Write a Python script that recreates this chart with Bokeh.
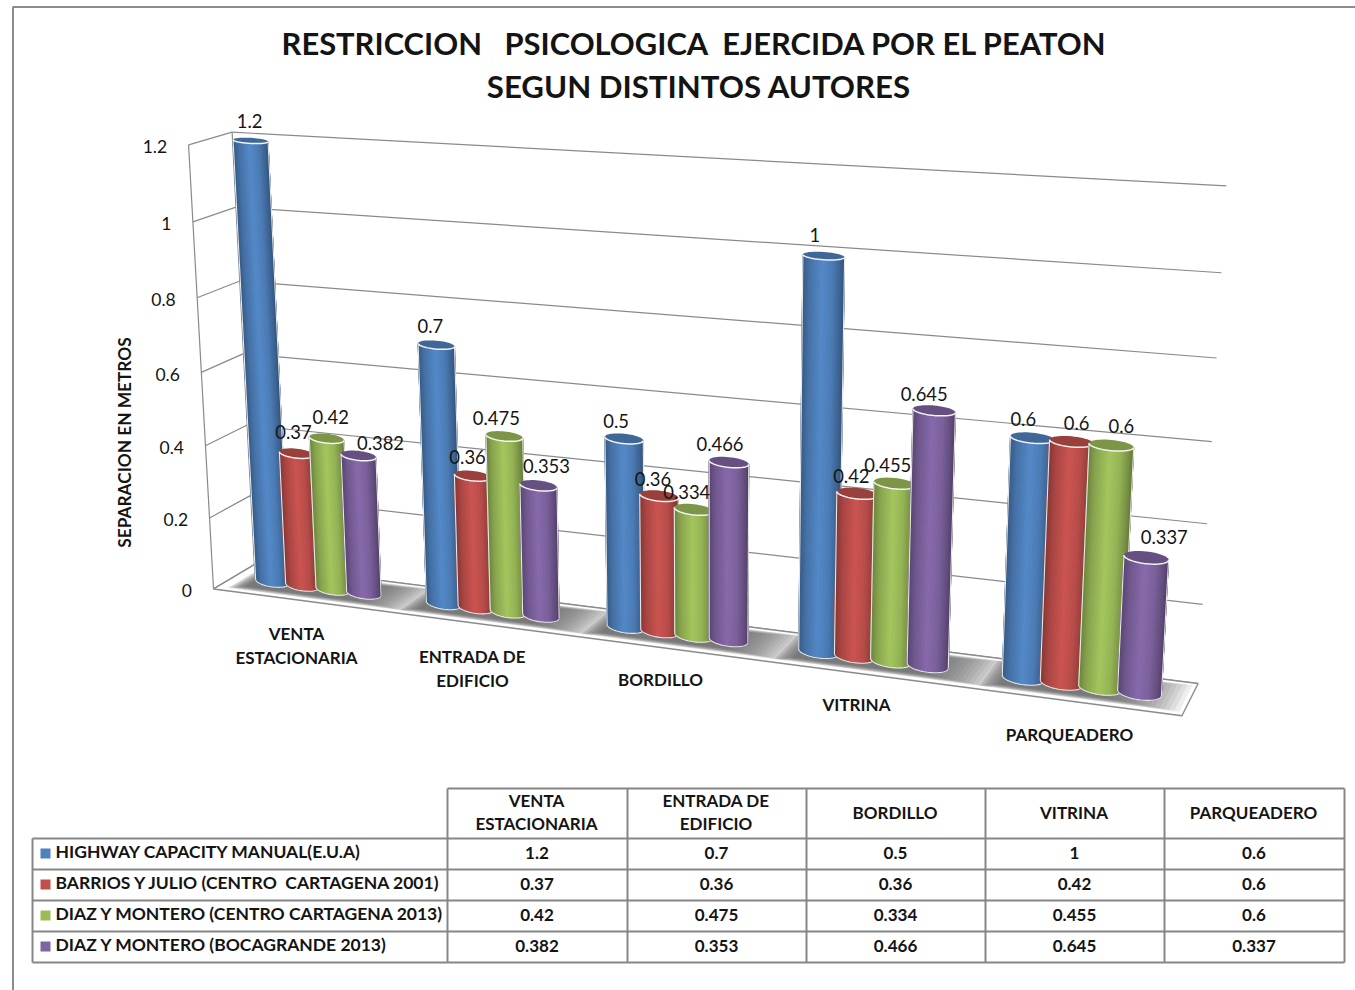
import numpy as np
from bokeh.plotting import figure
from bokeh.embed import file_html
from bokeh.resources import INLINE
from bokeh.core.properties import value

# ---------- data ----------
categories = ["VENTA\nESTACIONARIA", "ENTRADA DE\nEDIFICIO", "BORDILLO", "VITRINA", "PARQUEADERO"]
series_names = ["HIGHWAY CAPACITY MANUAL(E.U.A)", "BARRIOS Y JULIO (CENTRO \u00a0CARTAGENA 2001)",
                "DIAZ Y MONTERO (CENTRO CARTAGENA 2013)", "DIAZ Y MONTERO (BOCAGRANDE 2013)"]
highway = [1.2, 0.7, 0.5, 1, 0.6]
barrios = [0.37, 0.36, 0.36, 0.42, 0.6]
diaz_centro = [0.42, 0.475, 0.334, 0.455, 0.6]
diaz_boca = [0.382, 0.353, 0.466, 0.645, 0.337]
series = [highway, barrios, diaz_centro, diaz_boca]
ticks = [0, 0.2, 0.4, 0.6, 0.8, 1, 1.2]
tick_labels = ["0", "0.2", "0.4", "0.6", "0.8", "1", "1.2"]
title = ["RESTRICCION \u00a0 PSICOLOGICA \u00a0EJERCIDA POR EL PEATON", "SEGUN DISTINTOS AUTORES"]
y_title = "SEPARACION EN METROS"

# ---------- style ----------
colors = ["#4F81BD", "#C0504D", "#9BBB59", "#8064A2"]
GRID = "#8a8a8a"
TEXT = "#141414"
FONT = value("Lato")
STEP, RAD, RZ = 0.18, 0.1, 0.22

# perspective frame: (category pos, value, depth) -> page pixel, fitted to the frame's corners
d15 = 1.5 * STEP
anchors = [((0,0,0),(213,590)),((0,1.2,0),(187,143)),((0,.6,0),(202,371)),((5,0,0),(1182,717)),
           ((5,0,1),(1197,682)),((0,0,1),(253,567)),((0,1.2,1),(232,131)),((5,1.2,1),(1226,185)),
           ((5,.6,1),(1213,441)),((.5,0,.5),(317,585)),((1.5,0,.5),(492.5,608)),((2.5,0,.5),(676,632)),
           ((3.5,0,.5),(872,657)),((4.5,0,.5),(1081,684)),((.5-d15,1.2,.5),(251,141)),
           ((3.5-d15,1,.5),(822,257)),((4.5-d15,.6,.5),(1030,439))]
A, b = [], []
for (x, v, z), (u, w) in anchors:
    A.append([x, v, z, 1, 0, 0, 0, 0, -u*x, -u*v, -u*z]); b.append(u)
    A.append([0, 0, 0, 0, x, v, z, 1, -w*x, -w*v, -w*z]); b.append(w)
cam = np.linalg.lstsq(np.array(A, float), np.array(b, float), rcond=None)[0]
def proj(x, v, z):
    den = cam[8]*x + cam[9]*v + cam[10]*z + 1
    return np.array([(cam[0]*x+cam[1]*v+cam[2]*z+cam[3])/den, (cam[4]*x+cam[5]*v+cam[6]*z+cam[7])/den])

p = figure(width=1355, height=990, x_range=(0, 1355), y_range=(990, 0), toolbar_location=None,
           output_backend="svg", min_border=0, outline_line_color=None, background_fill_color="white",
           border_fill_color="white")
p.axis.visible = False
p.grid.visible = False

def seg(a, c, color=GRID, w=1.2):
    p.line([a[0], c[0]], [a[1], c[1]], line_color=color, line_width=w)

def txt(x, y, s, size="17px", style="bold", align="center", angle=0):
    p.text([x], [y-1.5], text=[s], text_font=FONT, text_font_size=size, text_font_style=style,
           text_align=align, text_baseline="middle", text_color=TEXT, angle=angle)

# chart border
p.line([12.5, 12.5, 1355], [990, 6.5, 6.5], line_color="#8c8c8c", line_width=2)

# title
txt(694.5, 44, title[0], "30.9px")
txt(698.5, 87, title[1], "31.2px")
txt(124, 443.5, y_title, "17.3px", angle=np.pi/2)

# walls and gridlines
for t, lab in zip(ticks, tick_labels):
    f, bk, r = proj(0, t, 0), proj(0, t, 1), proj(5, t, 1)
    seg(f, bk); seg(bk, r)
    txt(f[0]-21.5, f[1]+3.5, lab, "17.5px", "normal", "right")
seg(proj(0, 0, 0), proj(0, 1.2, 0)); seg(proj(0, 0, 1), proj(0, 1.2, 1))

# floor
fl = [proj(0,0,0), proj(0,0,1), proj(5,0,1), proj(5,0,0)]
p.patch([q[0] for q in fl], [q[1] for q in fl], fill_color="white", line_color=GRID, line_width=1.4)

# soft shadows on the floor: nested translucent quads build up a smooth gradient
NL = 16
for i in range(5):
    x0, x1 = i+.5-.44, min(i+.5+.62, 4.98)
    sx, sy = [], []
    for k in range(NL):
        t = k/NL
        xa, xb_ = x0 + .09*t, x1 - .36*t
        za, zb = .1 + .14*t, .93 - .14*t
        q = [proj(xa,0,za), proj(xb_,0,za), proj(xb_,0,zb), proj(xa,0,zb)]
        sx.append([c[0] for c in q]); sy.append([c[1] for c in q])
    p.patches(sx, sy, fill_color="#666666", fill_alpha=0.11, line_color=None)

def shade(hexc, f):
    rgb = np.array([int(hexc[k:k+2], 16) for k in (1, 3, 5)], float) * f
    rgb = np.clip(rgb, 0, 255).astype(int)
    return "#%02x%02x%02x" % tuple(rgb)

def ring(x, v, th):
    c = proj(x, v, .5)
    ax = proj(x+RAD, v, .5) - c
    by = abs(proj(x, v, .5-RZ)[1] - proj(x, v, .5+RZ)[1]) / 2
    return c[0]+np.cos(th)*ax[0], c[1]+np.cos(th)*ax[1]+np.sin(th)*by

# cylinders
NS = 40
offs = [(-1,-20),(-3,-21),(4,-21),(22,-13),(-6,-19),(-5,-19),(-8,-18),(8,-20),(-8,-18),(-6,-17),
        (-7,-18),(-9,-18),(-9,-21),(-6,-17),(-7,-18),(-10,-17),(-9,-19),(5,-19),(10,-19),(18,-21)]
labels = []
for i in range(5):
    for j, ser in enumerate(series):
        v = ser[i]
        x = i + .5 + (j-1.5)*STEP
        th = np.linspace(0, np.pi, NS+1)
        xb, yb = ring(x, 0, th); xt, yt = ring(x, v, th)
        qx, qy, qc = [], [], []
        for k in range(NS):
            qx.append([xb[k], xb[k+1], xt[k+1], xt[k]])
            qy.append([yb[k], yb[k+1], yt[k+1], yt[k]])
            u = (1-np.cos((th[k]+th[k+1])/2))/2   # 0 right -> 1 left
            f = np.interp(u, [0, .1, .3, .55, .85, 1], [.62, .76, .96, 1.06, .88, .72])
            qc.append(shade(colors[j], f))
        p.patches(qx, qy, fill_color=qc, line_color=qc, line_width=1)
        # pale outline of the body
        p.line(list(xb)+[xt[-1]], list(yb)+[yt[-1]], line_color="#e8e8e8", line_width=1.1)
        p.line([xb[0], xt[0]], [yb[0], yt[0]], line_color="#e8e8e8", line_width=1.1)
        # top cap
        t2 = np.linspace(0, 2*np.pi, 49)
        cx, cy = ring(x, v, t2)
        p.patch(cx, cy, fill_color=shade(colors[j], .8), line_color=None)
        fx, fy = ring(x, v, th)
        p.line(fx, fy, line_color="#f4f4f4", line_width=1.5)
        top = proj(x, v, .5)
        o = offs[i*4+j]
        labels.append((top[0]+o[0], top[1]+o[1]+1.5, f"{v:g}"))

for lx, ly, s in labels:
    txt(lx, ly, s, "18.4px", "normal")

# category labels
cat_pos = [(296, 646), (472, 669), (660, 680), (856, 705), (1069, 735)]
for (cx, cy), c in zip(cat_pos, categories):
    parts = c.split("\n")
    if len(parts) == 2:
        txt(cx, cy-12, parts[0]); txt(cx, cy+12, parts[1])
    else:
        txt(cx, cy, parts[0])

# data table
col_x = [447, 627, 806, 985, 1164, 1344]
row_y = [788, 838, 869, 900, 931, 962]
TB = "#868686"
for yy in row_y[1:]:
    seg((32, yy), (1344, yy), TB, 2)
seg((447, 788), (1344, 788), TB, 2)
seg((32, 838), (32, 962), TB, 2)
for xx in col_x:
    seg((xx, 788), (xx, 962), TB, 2)
for c, c0, c1 in zip(categories, col_x[:-1], col_x[1:]):
    m = (c0+c1)/2 - 1
    parts = c.split("\n")
    if len(parts) == 2:
        txt(m, 801, parts[0]); txt(m, 824, parts[1])
    else:
        txt(m, 813, parts[0])
for r, (name, ser) in enumerate(zip(series_names, series)):
    ym = (row_y[r+1]+row_y[r+2])/2
    p.rect([45], [ym-.5], width=10, height=10, fill_color=colors[r], line_color=None)
    txt(55, ym-1, name, "17.5px", "bold", "left")
    for k, val in enumerate(ser):
        txt((col_x[k]+col_x[k+1])/2 - .5, ym+.5, f"{val:g}")

open("out.html", "w").write(file_html(p, INLINE))
